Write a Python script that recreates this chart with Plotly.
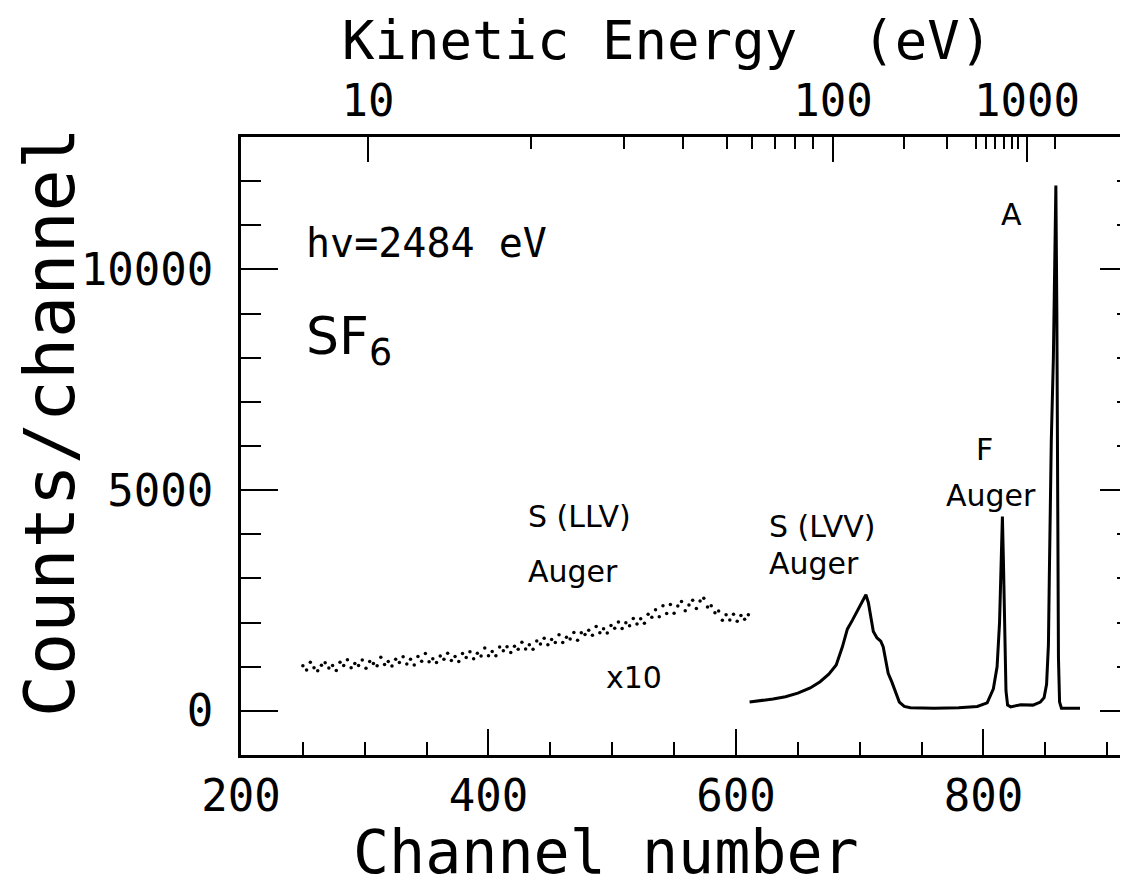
import plotly.graph_objects as go

# ---------------- data ----------------
# S(LLV) Auger region, displayed x10 (counts/channel as plotted)
llv_channel = list(range(250, 611, 3))
llv_counts = [1020, 925, 1100, 975, 910, 1035, 1088, 972, 1026, 912,
              1100, 1025, 1160, 976, 1072, 1026, 1150, 964, 1118, 1074,
              1020, 1216, 1052, 1118, 1014, 1170, 1096, 1223, 1060, 1170,
              1040, 1233, 1126, 1299, 1114, 1180, 1096, 1242, 1168, 1304,
              1140, 1230, 1120, 1297, 1209, 1341, 1183, 1305, 1240, 1425,
              1250, 1345, 1250, 1445, 1360, 1455, 1320, 1463, 1395, 1557,
              1400, 1498, 1396, 1584, 1515, 1645, 1500, 1615, 1550, 1724,
              1550, 1668, 1626, 1774, 1602, 1770, 1728, 1826, 1714, 1912,
              1770, 1861, 1762, 1933, 1874, 2015, 1866, 1997, 1930, 2094,
              1970, 2087, 1984, 2191, 2120, 2290, 2130, 2380, 2204, 2408,
              2210, 2375, 2480, 2265, 2400, 2505, 2320, 2490, 2550, 2350,
              2380, 2220, 2260, 2050, 2180, 2060, 2190, 2030, 2160, 2075,
              2180]

# S(LVV) Auger, F Auger and peak A (continuous spectrum)
spec_channel = [611, 620, 630, 640, 650, 660, 668, 675, 681, 686,
                690, 694, 698, 702, 705, 707, 709, 711, 714, 717,
                719, 721, 723, 726, 729, 732, 736, 741, 760, 780,
                795, 803, 808, 811, 813, 814.5, 815.3, 816.2, 817.2, 818.2,
                819.5, 822, 830, 840, 846, 849, 851, 852.5, 853.2, 854.0,
                854.6, 854.2, 854.8, 856.5, 857.5, 858.5, 859.3, 859.9, 860.6, 861.5,
                863, 878]
spec_counts = [200, 230, 270, 320, 400, 520, 660, 830, 1040, 1450,
               1850, 2050, 2250, 2480, 2630, 2450, 2100, 1800, 1650, 1580,
               1450, 1100, 850, 650, 400, 200, 100, 70, 60, 70,
               100, 180, 500, 1000, 2000, 3300, 4400, 3300, 1500, 450,
               130, 90, 140, 130, 200, 300, 600, 1500, 3000, 4450,
               6100, 4450, 6100, 8000, 10500, 11900, 9000, 4500, 1200, 200,
               60, 60]

# Kinetic energy scale (top axis): energy value -> channel position
ke_major_energy = [10, 100, 1000]
ke_major_channel = [302.6, 678.4, 835.2]
ke_minor_energy = [20, 30, 40, 50, 60, 70, 80, 90,
                   200, 300, 400, 500, 600, 700, 800, 900, 2000]
ke_minor_channel = [434.3, 509.5, 557.2, 592.7, 612.9, 631.5, 647.7, 662.2,
                    735.8, 770.5, 793.9, 802.0, 809.3, 816.6, 823.0, 827.9, 857.8]

y_tick_values = [0, 5000, 10000]
x_range = [200, 916.8]
y_range = [-1000, 13000]

# ---------------- figure ----------------
MONO = "DejaVu Sans Mono"
SANS = "DejaVu Sans"

fig = go.Figure()
fig.add_trace(go.Scatter(x=llv_channel, y=llv_counts, mode="markers",
                         marker=dict(color="black", size=3.5), showlegend=False,
                         hoverinfo="skip"))
fig.add_trace(go.Scatter(x=spec_channel, y=spec_counts, mode="lines",
                         line=dict(color="black", width=3), showlegend=False))
# helper traces so the top and right axes are drawn
fig.add_trace(go.Scatter(x=x_range, y=[None, None], xaxis="x2", yaxis="y",
                         mode="lines", showlegend=False, hoverinfo="skip"))
fig.add_trace(go.Scatter(x=x_range, y=[None, None], xaxis="x", yaxis="y2",
                         mode="lines", showlegend=False, hoverinfo="skip"))

fig.update_layout(
    width=1120, height=880,
    margin=dict(l=233, r=0, t=129, b=133),
    paper_bgcolor="white", plot_bgcolor="white",
    showlegend=False,
    xaxis=dict(range=x_range, showline=True, linecolor="black", linewidth=3,
               showgrid=False, zeroline=False,
               tickmode="linear", tick0=200, dtick=200,
               ticks="inside", ticklen=26, tickwidth=2, tickcolor="black",
               minor=dict(dtick=50, tick0=200, ticks="inside", ticklen=13,
                          tickwidth=2, tickcolor="black"),
               ticklabelstandoff=0,
               tickfont=dict(family=MONO, size=44, color="black")),
    xaxis2=dict(range=x_range, overlaying="x", side="top", showline=True,
                linecolor="black", linewidth=3, showgrid=False, zeroline=False,
                tickmode="array", tickvals=ke_major_channel,
                ticktext=[str(v) for v in ke_major_energy],
                ticks="inside", ticklen=25, tickwidth=2, tickcolor="black",
                minor=dict(tickmode="array", tickvals=ke_minor_channel,
                           ticks="inside", ticklen=12, tickwidth=2,
                           tickcolor="black"),
                ticklabelstandoff=0,
                tickfont=dict(family=MONO, size=44, color="black")),
    yaxis=dict(range=y_range, showline=True, linecolor="black", linewidth=3,
               showgrid=False, zeroline=False,
               tickmode="array", tickvals=y_tick_values,
               ticktext=[str(v) for v in y_tick_values],
               ticks="inside", ticklen=37, tickwidth=2, tickcolor="black",
               minor=dict(dtick=1000, tick0=0, ticks="inside", ticklen=20,
                          tickwidth=2, tickcolor="black"),
               ticklabelstandoff=16,
               tickfont=dict(family=MONO, size=44, color="black")),
    yaxis2=dict(range=y_range, overlaying="y", side="right", showline=False,
                showgrid=False, zeroline=False, showticklabels=False,
                tickmode="array", tickvals=y_tick_values,
                ticks="inside", ticklen=28, tickwidth=2, tickcolor="black",
                minor=dict(dtick=1000, tick0=0, ticks="inside", ticklen=11,
                           tickwidth=2, tickcolor="black")),
)

def note(text, x, y, size, xref="x", yref="y", family=SANS, angle=0,
         xanchor="left"):
    fig.add_annotation(text=text, x=x, y=y, xref=xref, yref=yref,
                       showarrow=False, xanchor=xanchor, yanchor="middle",
                       textangle=angle, borderpad=0,
                       font=dict(family=family, size=size, color="black"))

# axis titles
note("Channel number", 0.4115, -0.157, 60, xref="paper", yref="paper",
     family=MONO, xanchor="center")
note("Kinetic Energy  (eV)", 0.48, 1.1555, 54, xref="paper", yref="paper",
     family=MONO, xanchor="center")
note("Counts/channel", -0.2150, 0.539, 70, xref="paper", yref="paper",
     family=MONO, angle=-90, xanchor="center")

# labels inside the plot
note("hv=2484 eV", 251.7, 10600, 40, family=MONO)
note("SF<sub>6</sub>", 251.7, 8400, 52)
note("S (LLV)", 431, 4395, 30)
note("Auger", 431, 3150, 30)
note("x10", 494, 750, 30)
note("S (LVV)", 626, 4180, 30)
note("Auger", 626, 3330, 30)
note("F", 801, 5910, 30, xanchor="center")
note("Auger", 806, 4890, 30, xanchor="center")
note("A", 823, 11240, 30, xanchor="center")

fig.write_html("out.html")
